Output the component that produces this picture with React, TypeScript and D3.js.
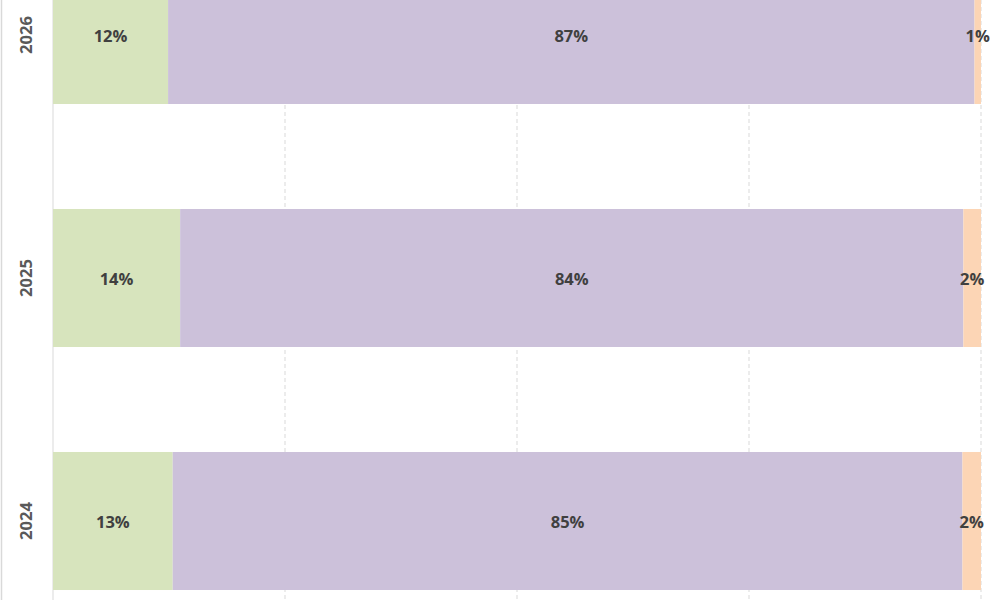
import React, { useRef, useEffect } from "react";
import * as d3 from "d3";

const years = ["2026", "2025", "2024"];
const seriesKeys = ["first", "second", "third"];
const firstValues = [12.4, 13.7, 12.9];
const secondValues = [86.9, 84.4, 85.1];
const thirdValues = [0.7, 1.9, 2.0];
const gridTicks = [25, 50, 75, 100];

const colors: Record<string, string> = {
  first: "#d7e4bd",
  second: "#ccc1da",
  third: "#fcd5b5",
};

const App: React.FC = () => {
  const svgRef = useRef<SVGSVGElement>(null);

  useEffect(() => {
    const svg = d3.select(svgRef.current);
    svg.selectAll("*").remove();

    const width = 1000;
    const height = 600;

    const rows = years.map((year, i) => ({
      year,
      first: firstValues[i],
      second: secondValues[i],
      third: thirdValues[i],
    }));

    const x = d3.scaleLinear().domain([0, 100]).range([53, 981]);
    const y = d3
      .scaleBand()
      .domain(years)
      .range([-86.5, 642.5])
      .paddingInner(0.432)
      .paddingOuter(0.216);

    svg.append("rect").attr("width", width).attr("height", height).attr("fill", "#fff");

    // outer chart border (left edge visible)
    svg
      .append("line")
      .attr("x1", 1.5)
      .attr("x2", 1.5)
      .attr("y1", 0)
      .attr("y2", height)
      .attr("stroke", "#d9d9d9")
      .attr("stroke-width", 1.5);

    // dashed grid lines
    svg
      .selectAll(".grid-line")
      .data(gridTicks)
      .join("line")
      .attr("class", "grid-line")
      .attr("x1", (d) => x(d))
      .attr("x2", (d) => x(d))
      .attr("y1", 0)
      .attr("y2", height)
      .attr("stroke", "#d9d9d9")
      .attr("stroke-width", 1)
      .attr("stroke-dasharray", "4,3");

    // y axis line
    svg
      .append("line")
      .attr("x1", x(0))
      .attr("x2", x(0))
      .attr("y1", 0)
      .attr("y2", height)
      .attr("stroke", "#d9d9d9")
      .attr("stroke-width", 1);

    const stacked = d3.stack<any>().keys(seriesKeys)(rows);

    const layers = svg
      .selectAll(".layer")
      .data(stacked)
      .join("g")
      .attr("class", "layer")
      .attr("fill", (d) => colors[d.key]);

    layers
      .selectAll("rect")
      .data((d) => d.map((p) => ({ p, key: d.key })))
      .join("rect")
      .attr("x", (d) => x(d.p[0]))
      .attr("y", (d) => y(d.p.data.year)!)
      .attr("width", (d) => x(d.p[1]) - x(d.p[0]))
      .attr("height", y.bandwidth());

    // value labels
    layers
      .selectAll("text")
      .data((d) => d.map((p) => ({ p, key: d.key })))
      .join("text")
      .attr("x", (d) => (x(d.p[0]) + x(d.p[1])) / 2)
      .attr("y", (d) => y(d.p.data.year)! + y.bandwidth() / 2)
      .attr("text-anchor", "middle")
      .attr("dominant-baseline", "central")
      .attr("fill", "#404040")
      .style("font-family", "'Open Sans', sans-serif")
      .style("font-weight", "bold")
      .style("font-size", "16.5px")
      .text((d) => `${Math.round(d.p[1] - d.p[0])}%`);

    // year labels
    svg
      .selectAll(".year-label")
      .data(years)
      .join("text")
      .attr("class", "year-label")
      .attr(
        "transform",
        (d) => `translate(25,${y(d)! + y.bandwidth() / 2}) rotate(-90)`
      )
      .attr("text-anchor", "middle")
      .attr("dominant-baseline", "central")
      .attr("fill", "#595959")
      .style("font-family", "'Open Sans', sans-serif")
      .style("font-weight", "bold")
      .style("font-size", "16.5px")
      .text((d) => d);
  }, []);

  return (
    <svg
      ref={svgRef}
      width={1000}
      height={600}
      style={{ position: "absolute", left: 0, top: 0, display: "block" }}
    />
  );
};

export default App;
